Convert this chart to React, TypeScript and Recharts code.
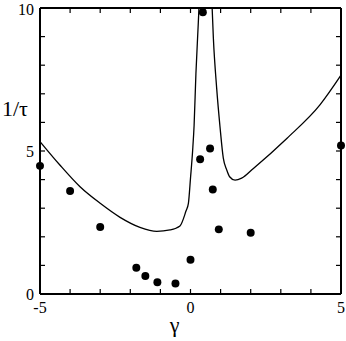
import React from "react"
import {
  ComposedChart,
  Line,
  Scatter,
  XAxis,
  YAxis,
  ZAxis,
} from "recharts"

// theory curve (gamma, 1/tau), goes off the top around gamma ~ 0.3..0.7
const curveGamma = [
  -5, -4.34, -3.67, -3.0, -2.34, -1.68, -1.12, -0.68, -0.35, -0.15, -0.07, 0, 0.07, 0.12, 0.18,
  0.26, 0.3, 0.5, 0.7, 0.76, 0.87, 0.98, 1.09, 1.2, 1.3, 1.48, 1.7, 2.09, 3.2, 4.3, 5,
]
const curveRate = [
  5.33, 4.51, 3.75, 3.17, 2.68, 2.33, 2.19, 2.24, 2.38, 2.9, 3.17, 4.05, 5.0, 5.9, 7.7, 9.5, 10.5,
  20, 10.5, 8.94, 7.19, 5.85, 4.75, 4.35, 4.1, 3.98, 4.05, 4.39, 5.44, 6.61, 7.65,
]

// measured points
const pointGamma = [-5, -4, -3, -1.8, -1.5, -1.1, -0.5, 0, 0.32, 0.41, 0.65, 0.74, 0.94, 2, 5]
const pointRate = [4.48, 3.6, 2.34, 0.92, 0.63, 0.41, 0.37, 1.2, 4.71, 9.85, 5.09, 3.65, 2.26, 2.14, 5.19]

const xTicks = [-5, -4, -3, -2, -1, 0, 1, 2, 3, 4, 5]
const yTicks = [0, 1, 2, 3, 4, 5, 6, 7, 8, 9, 10]

const curveData = curveGamma.map((g, i) => ({ g, r: curveRate[i] }))
const pointData = pointGamma.map((g, i) => ({ g, r: pointRate[i] }))

const font = "'Liberation Serif', 'Times New Roman', serif"
const tickStyle = { fontFamily: font, fontSize: 16, fill: "#000" }
const spine = { stroke: "#000", strokeWidth: 2 }
const tickLn = { stroke: "#000", strokeWidth: 1.2 }

export default function App() {
  return (
    <div style={{ position: "absolute", left: 0, top: 0, width: 346, height: 341, background: "#fff" }}>
      <ComposedChart width={346} height={341} margin={{ top: 7, right: 4, left: 0, bottom: 0 }}>
        <XAxis
          xAxisId="b"
          dataKey="g"
          type="number"
          domain={[-5, 5]}
          ticks={xTicks}
          height={47}
          tickSize={-5}
          tickMargin={13}
          tickFormatter={(v) => (v % 5 === 0 ? String(v) : "")}
          tick={tickStyle}
          axisLine={spine}
          tickLine={tickLn}
        />
        {/* top frame edge with inward ticks; carries the scatter so it gets a domain */}
        <XAxis
          xAxisId="t"
          dataKey="g"
          orientation="top"
          type="number"
          domain={[-5, 5]}
          ticks={xTicks}
          height={1}
          tickFormatter={() => ""}
          tickSize={-5}
          axisLine={spine}
          tickLine={tickLn}
        />
        <YAxis
          yAxisId="l"
          type="number"
          domain={[0, 10]}
          ticks={yTicks}
          width={40}
          tickSize={-5}
          tickMargin={11}
          tickFormatter={(v) => (v % 5 === 0 ? String(v) : "")}
          tick={tickStyle}
          axisLine={spine}
          tickLine={tickLn}
          allowDataOverflow
        />
        {/* right frame edge, also carries the scatter so dots are not clipped */}
        <YAxis
          yAxisId="r"
          orientation="right"
          type="number"
          domain={[0, 10]}
          ticks={yTicks}
          width={1}
          tickFormatter={() => ""}
          tickSize={-5}
          axisLine={spine}
          tickLine={tickLn}
        />
        <ZAxis range={[50, 50]} />
        <Line
          data={curveData}
          xAxisId="b"
          yAxisId="l"
          dataKey="r"
          type="monotone"
          stroke="#000"
          strokeWidth={1.3}
          dot={false}
          isAnimationActive={false}
        />
        <Scatter
          data={pointData}
          xAxisId="t"
          yAxisId="r"
          dataKey="r"
          fill="#000"
          isAnimationActive={false}
        />
      </ComposedChart>
      <svg
        width={346}
        height={341}
        style={{ position: "absolute", left: 0, top: 0, pointerEvents: "none" }}
      >
        <text x={2} y={116} fontFamily={font} fontSize={22} fill="#000">
          1/τ
        </text>
        <text x={174.5} y={332} fontFamily={font} fontSize={22} fill="#000" textAnchor="middle">
          γ
        </text>
      </svg>
    </div>
  )
}
